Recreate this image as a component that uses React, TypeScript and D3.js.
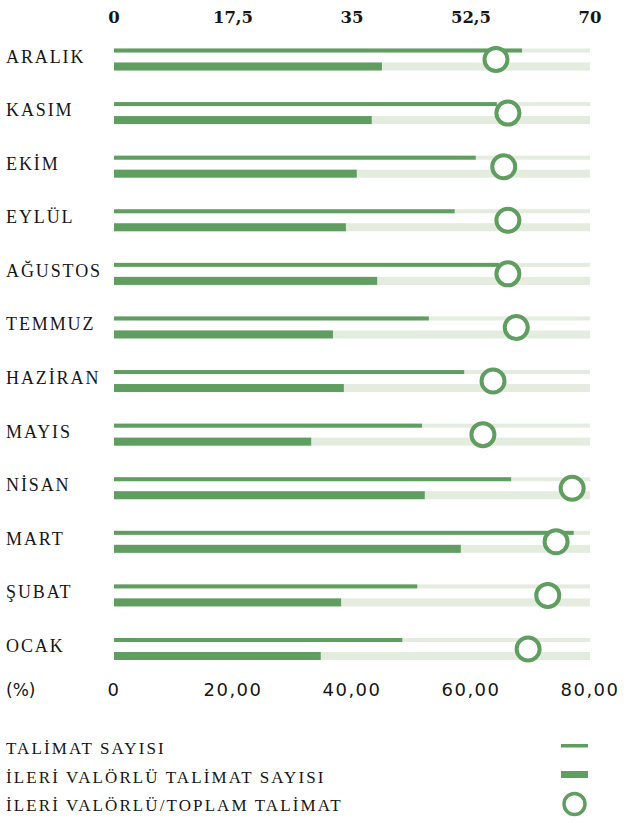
import React from "react";
import * as d3 from "d3";

// data (top to bottom)
const months = ["ARALIK", "KASIM", "EKİM", "EYLÜL", "AĞUSTOS", "TEMMUZ", "HAZİRAN", "MAYIS", "NİSAN", "MART", "ŞUBAT", "OCAK"];
const talimatSayisi = [60.0, 56.3, 53.2, 50.1, 56.6, 46.3, 51.5, 45.3, 58.4, 67.6, 44.6, 42.4];
const ileriValorlu = [39.4, 37.9, 35.7, 34.1, 38.7, 32.2, 33.8, 29.0, 45.7, 51.0, 33.4, 30.4];
const oranYuzde = [64.2, 66.2, 65.5, 66.2, 66.2, 67.6, 63.7, 62.0, 77.0, 74.3, 72.9, 69.6];

const topTicks = [0, 17.5, 35, 52.5, 70];
const bottomTicks = [0, 20, 40, 60, 80];
const legendItems = ["TALİMAT SAYISI", "İLERİ VALÖRLÜ TALİMAT SAYISI", "İLERİ VALÖRLÜ/TOPLAM TALİMAT"];

const width = 624;
const height = 822;
const green = "#5f9d60";
const track = "#e4ebdf";
const ink = "#161616";
const serif = "'Liberation Serif', 'Times New Roman', serif";

const x0 = 114;
const x1 = 590;

export default function App() {
  const xCount = d3.scaleLinear().domain([0, 70]).range([x0, x1]);
  const xPct = d3.scaleLinear().domain([0, 80]).range([x0, x1]);
  const y = d3.scalePoint<string>().domain(months).range([59.5, 649]);

  const fmtTop = (d: number) => String(d).replace(".", ",");
  const fmtBottom = (d: number) => (d === 0 ? "0" : d3.format(".2f")(d).replace(".", ","));

  return (
    <svg
      width={width}
      height={height}
      style={{ position: "absolute", left: 0, top: 0, background: "#fff" }}
    >
      {/* top axis */}
      {topTicks.map((t) => (
        <text
          key={"t" + t}
          x={xCount(t)}
          y={23}
          textAnchor="middle"
          fontFamily="'DejaVu Serif', serif"
          fontWeight={700}
          fontSize={16.5}
          fill={ink}
        >
          {fmtTop(t)}
        </text>
      ))}

      {months.map((m, i) => {
        const c = y(m) as number;
        return (
          <g key={m}>
            <text
              x={6}
              y={c + 3}
              fontFamily={serif}
              fontSize={18}
              letterSpacing={1.9}
              fill={ink}
            >
              {m}
            </text>
            <rect x={x0} y={c - 11} width={x1 - x0} height={4} fill={track} />
            <rect x={x0} y={c + 3} width={x1 - x0} height={8} fill={track} />
            <rect x={x0} y={c - 11} width={xCount(talimatSayisi[i]) - x0} height={4} fill={green} />
            <rect x={x0} y={c + 3} width={xCount(ileriValorlu[i]) - x0} height={8} fill={green} />
          </g>
        );
      })}

      {months.map((m, i) => (
        <circle
          key={"c" + m}
          cx={xPct(oranYuzde[i])}
          cy={y(m) as number}
          r={11.5}
          fill="#fff"
          stroke={green}
          strokeWidth={4}
        />
      ))}

      {/* bottom axis */}
      <text x={6} y={696} fontFamily="'DejaVu Sans', sans-serif" fontSize={17} fill={ink}>
        (%)
      </text>
      {bottomTicks.map((t) => (
        <text
          key={"b" + t}
          x={xPct(t)}
          y={696}
          textAnchor="middle"
          fontFamily="'DejaVu Sans', sans-serif"
          fontSize={18}
          letterSpacing={1.5}
          fill={ink}
        >
          {fmtBottom(t)}
        </text>
      ))}

      {/* legend */}
      {legendItems.map((label, i) => (
        <text
          key={label}
          x={6}
          y={754 + i * 28.5}
          fontFamily={serif}
          fontSize={17}
          letterSpacing={2.1}
          fill={ink}
        >
          {label}
        </text>
      ))}
      <rect x={561} y={744} width={27} height={3.5} fill={green} />
      <rect x={561} y={771} width={27} height={7} fill={green} />
      <circle cx={574.5} cy={804} r={10.5} fill="#fff" stroke={green} strokeWidth={3.5} />
    </svg>
  );
}
